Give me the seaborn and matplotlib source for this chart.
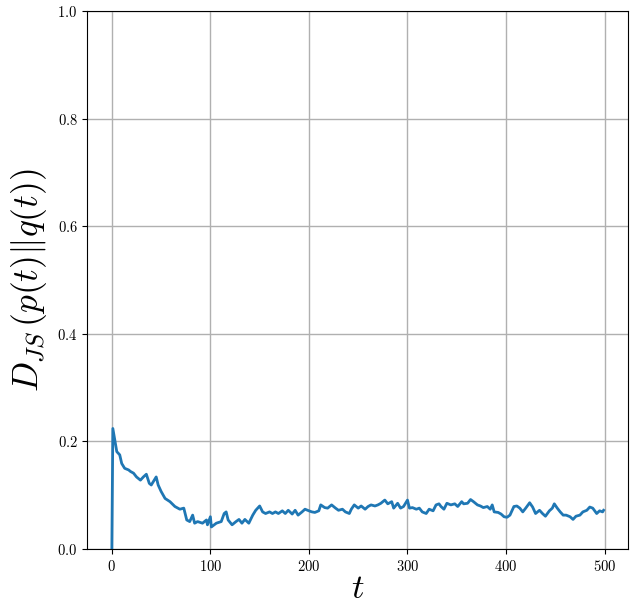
import matplotlib
matplotlib.use("Agg")
import matplotlib.pyplot as plt
import seaborn as sns
import pandas as pd

plt.rcParams["font.family"] = "serif"
plt.rcParams["font.serif"] = ["cmr10", "DejaVu Serif"]
plt.rcParams["mathtext.fontset"] = "cm"
plt.rcParams["axes.formatter.use_mathtext"] = True

# Jensen-Shannon divergence between p(t) and q(t) over time
t = [0, 1, 3, 5, 8, 10, 13, 17, 19, 22, 25, 29, 32, 35, 38, 40, 45, 47, 50,
     54, 59, 64, 69, 73, 76, 79, 82, 84, 87, 92, 96, 97, 100, 101, 106, 111,
     114, 116, 118, 122, 126, 129, 132, 135, 139, 143, 146, 150, 153, 156,
     160, 163, 166, 169, 173, 176, 179, 183, 186, 189, 193, 196, 200, 203,
     206, 210, 212, 216, 219, 223, 227, 230, 234, 237, 241, 243, 246, 250,
     253, 257, 260, 263, 267, 270, 273, 277, 280, 284, 286, 290, 293, 296,
     300, 302, 305, 309, 312, 315, 319, 322, 326, 329, 332, 334, 337, 340,
     344, 348, 351, 355, 357, 361, 364, 367, 371, 374, 377, 381, 384, 386,
     388, 392, 395, 398, 401, 404, 408, 411, 414, 417, 420, 424, 427, 430,
     434, 437, 440, 444, 447, 449, 452, 455, 458, 461, 465, 468, 471, 475,
     478, 482, 485, 488, 492, 495, 498, 499]
djs = [0.000, 0.224, 0.203, 0.181, 0.175, 0.159, 0.150, 0.147, 0.144, 0.141,
       0.134, 0.128, 0.134, 0.139, 0.122, 0.119, 0.134, 0.119, 0.107, 0.094,
       0.088, 0.079, 0.074, 0.076, 0.054, 0.051, 0.063, 0.048, 0.051, 0.048,
       0.054, 0.045, 0.060, 0.041, 0.048, 0.051, 0.066, 0.069, 0.054, 0.045,
       0.051, 0.055, 0.048, 0.055, 0.048, 0.063, 0.072, 0.080, 0.069, 0.066,
       0.069, 0.066, 0.069, 0.066, 0.071, 0.066, 0.072, 0.065, 0.072, 0.063,
       0.069, 0.074, 0.071, 0.069, 0.068, 0.071, 0.082, 0.077, 0.076, 0.082,
       0.076, 0.072, 0.074, 0.069, 0.066, 0.074, 0.082, 0.076, 0.080, 0.074,
       0.079, 0.082, 0.080, 0.082, 0.085, 0.091, 0.084, 0.088, 0.076, 0.085,
       0.076, 0.079, 0.091, 0.076, 0.077, 0.074, 0.076, 0.069, 0.066, 0.074,
       0.071, 0.082, 0.084, 0.079, 0.074, 0.085, 0.082, 0.084, 0.079, 0.088,
       0.084, 0.085, 0.092, 0.088, 0.082, 0.080, 0.077, 0.079, 0.074, 0.082,
       0.069, 0.068, 0.065, 0.060, 0.059, 0.063, 0.079, 0.080, 0.076, 0.069,
       0.076, 0.086, 0.078, 0.066, 0.072, 0.066, 0.061, 0.071, 0.076, 0.084,
       0.076, 0.069, 0.063, 0.063, 0.060, 0.055, 0.061, 0.063, 0.069, 0.072,
       0.078, 0.076, 0.066, 0.071, 0.069, 0.072]

df = pd.DataFrame({"t": t, "djs": djs})

fig = plt.figure(figsize=(6.32, 6.08), dpi=100)
ax = fig.add_axes([0.138, 0.097, 0.856, 0.885])
sns.lineplot(data=df, x="t", y="djs", ax=ax, color="#1f77b4", linewidth=2)

ax.set_ylim(0, 1.0)
ax.set_xlim(-25, 524)
ax.set_xticks([0, 100, 200, 300, 400, 500])
ax.set_yticks([0.0, 0.2, 0.4, 0.6, 0.8, 1.0])
ax.grid(True, color="#b0b0b0", linewidth=1)
ax.set_axisbelow(True)
ax.tick_params(labelsize=10.5)
ax.set_xlabel(r"$t$", fontsize=25, labelpad=0)
ax.set_ylabel(r"$D_{JS}\,(p(t)\|q(t))$", fontsize=25.5, labelpad=6)

fig.savefig("out.png", dpi=100)
